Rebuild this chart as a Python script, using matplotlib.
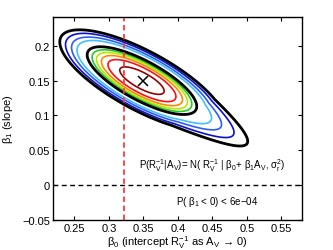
import matplotlib
matplotlib.use('Agg')
import matplotlib.pyplot as plt
import numpy as np

plt.rcParams['font.family'] = ['Liberation Sans', 'DejaVu Sans']
plt.rcParams['mathtext.fontset'] = 'custom'
plt.rcParams['mathtext.rm'] = 'Liberation Sans'
plt.rcParams['mathtext.it'] = 'Liberation Sans:italic'
plt.rcParams['axes.unicode_minus'] = True

# posterior summary
mode = (0.3495, 0.1496)
centre = (0.348, 0.150)
sig_b0 = 0.0397
sig_b1 = 0.0243
rho = -0.76
skew = 0.17
# contour levels as Mahalanobis radii, innermost first
radii = [0.81, 1.24, 1.48, 1.66, 1.82, 2.0, 2.37, 2.57, 2.79, 3.0]
cols = ['#990000', '#ff1010', '#ff8800', '#b4e800', '#22cc22', 'black',
        '#40c0ff', '#2a5cff', '#0a10d0', 'black']
widths = [1.2, 1.2, 1.2, 1.2, 1.2, 2.0, 1.2, 1.2, 1.2, 2.0]

rv_line = 0.322
xticks = [0.25, 0.3, 0.35, 0.4, 0.45, 0.5, 0.55]
yticks = [-0.05, 0, 0.05, 0.1, 0.15, 0.2]

# distance field on a grid
b0 = np.linspace(0.2, 0.6, 500)
b1 = np.linspace(-0.06, 0.26, 500)
X, Y = np.meshgrid(b0, b1)
z1 = (X - centre[0]) / sig_b0
z2 = (Y - centre[1]) / sig_b1
p = (z1 - z2) / np.sqrt(2)
q = (z1 + z2) / np.sqrt(2)
pn = p / np.sqrt(1 - rho)
pn = np.where(pn > 0, pn / (1 + skew * np.clip(pn - 2, 0, None)), pn)
D = np.sqrt(pn**2 + q**2 / (1 + rho))

fig = plt.figure(figsize=(3.33, 2.51), dpi=100)
ax = fig.add_axes([0.159, 0.1195, 0.748, 0.808])

ax.contour(X, Y, D, levels=radii, colors=cols, linewidths=widths)
ax.plot(mode[0], mode[1], 'x', color='black', ms=6.5, mew=1.1)
ax.axvline(rv_line, color='#ff3a3a', lw=1.3, dashes=(3, 2))
ax.axhline(0, color='black', lw=1.0, dashes=(3.5, 2.5))

ax.text(0.450, 0.029,
        r'P(R$_\mathrm{V}^{-1}$|A$_\mathrm{V}$)= N( R$_\mathrm{V}^{-1}$ | '
        r'β$_0$+ β$_1$A$_\mathrm{V}$, σ$_\mathrm{r}^2$)',
        fontsize=7, ha='center', va='center')
ax.text(0.457, -0.023, r'P( β$_1$ < 0) < 6e−04', fontsize=7,
        ha='center', va='center')

ax.set_xlim(0.219, 0.580)
ax.set_ylim(-0.05, 0.241)
ax.set_xticks(xticks)
ax.set_xticklabels(['0.25', '0.3', '0.35', '0.4', '0.45', '0.5', '0.55'])
ax.set_yticks(yticks)
ax.set_yticklabels(['−0.05', '0', '0.05', '0.1', '0.15', '0.2'])
ax.tick_params(direction='in', top=True, right=True, length=3, width=0.8,
               labelsize=8, pad=2)
for s in ax.spines.values():
    s.set_linewidth(1.0)

ax.set_xlabel(r'β$_0$ (intercept R$_\mathrm{V}^{-1}$ as A$_\mathrm{V}$ → 0)',
              fontsize=8, labelpad=0)
ax.set_ylabel(r'β$_1$ (slope)', fontsize=8, labelpad=5)

fig.savefig('out.png', dpi=100)
